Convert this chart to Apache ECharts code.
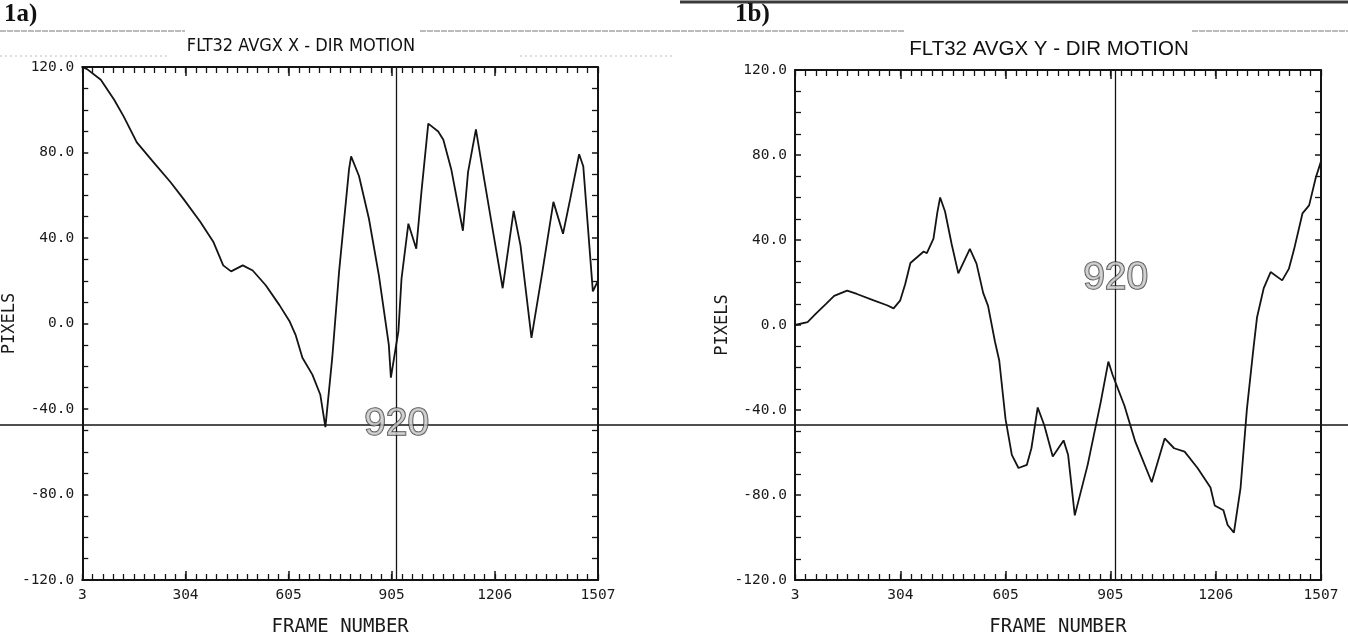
<!DOCTYPE html>
<html>
<head>
<meta charset="utf-8">
<script src="https://cdn.jsdelivr.net/npm/echarts@6/dist/echarts.min.js"></script>
<style>
html,body{margin:0;padding:0;background:#fff;}
#c{width:1348px;height:642px;}
</style>
</head>
<body>
<div id="c"></div>
<script>
// ---------- data ----------
const xTickLabels = [3, 304, 605, 905, 1206, 1507];
const yMin = -120, yMax = 120, yStep = 40;
const markerFrame = 920;
const crosshairValue = -47.5;
const markerLabelY = [-47, 22];
const titles = ['FLT32 AVGX X - DIR MOTION', 'FLT32 AVGX Y - DIR MOTION'];
const panelTags = ['1a)', '1b)'];

const leftFrames = [3,17,57,96,124,162,211,260,298,347,385,414,437,471,500,538,578,607,625,645,674,697,712,732,752,781,787,810,839,868,897,903,925,934,954,977,992,1012,1041,1056,1079,1113,1128,1151,1175,1203,1229,1261,1281,1313,1345,1377,1405,1426,1452,1464,1492,1507];
const leftPixels = [120,119,114,104.7,96.8,84.7,75.4,66.2,58.3,47.6,38.3,27.2,24.4,27.2,24.8,17.9,8.6,1.2,-5.3,-16,-23.9,-33.2,-48.5,-16,24.4,72.2,78.2,69,49,22.5,-10,-25.3,-3.5,21,46.7,35,61.5,93.5,89.8,86,72.2,43.4,70.8,90.8,67.5,41,16.5,52.7,36.4,-6.7,24.4,56.9,42,58.3,79.2,73.6,15,20];

const rightFrames = [3,39,62,91,115,152,180,228,266,285,304,318,333,371,380,399,410,418,432,451,470,503,522,541,555,575,587,605,623,642,666,679,697,716,740,771,784,803,840,877,899,911,945,976,1023,1060,1087,1117,1154,1191,1203,1228,1240,1258,1277,1295,1314,1324,1343,1363,1396,1415,1430,1454,1473,1492,1507];
const rightPixels = [0,1.4,5.2,9.8,13.7,16.2,14.6,11.6,9.3,7.8,11.6,19.2,29.2,34.6,33.8,40.7,53,60,53.4,38,24.3,35.8,28.9,15.1,9,-8,-16.7,-44.3,-61.1,-67.3,-65.8,-58,-38.8,-47.3,-61.9,-54.3,-61.2,-89.6,-65.7,-36.4,-17.2,-23.4,-38,-54.9,-74,-53.4,-58,-59.6,-67.3,-76.5,-84.9,-87.2,-94.1,-97.7,-76.6,-39.8,-10.8,3.5,17.2,24.9,21,26.4,35.6,52.5,56.3,69.3,77];

// ---------- styling / layout ----------
const INK = '#141414';
const MONO = '"DejaVu Sans Mono", "Liberation Mono", monospace';
const grids = [
  {left: 78, top: 67, width: 520, height: 517},
  {left: 795, top: 70, width: 526, height: 522}
];
const pixelsNameGap = [57, 59];

// minor tick positions: 10 subdivisions between labelled ticks
const xMinor = [];
for (let i = 0; i < xTickLabels.length - 1; i++) {
  const a = xTickLabels[i], b = xTickLabels[i + 1];
  for (let k = 0; k < 10; k++) xMinor.push(a + (b - a) * k / 10);
}
xMinor.push(xTickLabels[xTickLabels.length - 1]);

function xAxesFor(g) {
  const base = {gridIndex: g, type: 'value', min: xTickLabels[0], max: xTickLabels[xTickLabels.length - 1], splitLine: {show: false}};
  return [
    Object.assign({}, base, {
      position: 'bottom',
      axisLine: {show: true, onZero: false, lineStyle: {color: INK, width: 2}},
      axisTick: {show: true, inside: true, length: 9, customValues: xTickLabels, lineStyle: {color: INK, width: 1.5}},
      axisLabel: {show: true, customValues: xTickLabels, formatter: v => String(Math.round(v)), fontFamily: MONO, fontSize: 14.5, color: '#1a1a1a', margin: 8},
      name: 'FRAME NUMBER', nameLocation: 'middle', nameGap: 38,
      nameTextStyle: {fontFamily: MONO, fontSize: 19, color: '#1a1a1a'}
    }),
    Object.assign({}, base, {
      position: 'bottom',
      axisLine: {show: false, onZero: false},
      axisTick: {show: true, inside: true, length: 6, customValues: xMinor, lineStyle: {color: INK, width: 1.3}},
      axisLabel: {show: false}
    }),
    Object.assign({}, base, {
      position: 'top',
      axisLine: {show: true, onZero: false, lineStyle: {color: INK, width: 2}},
      axisTick: {show: true, inside: true, length: 9, customValues: xTickLabels, lineStyle: {color: INK, width: 1.5}},
      axisLabel: {show: false}
    }),
    Object.assign({}, base, {
      position: 'top',
      axisLine: {show: false, onZero: false},
      axisTick: {show: true, inside: true, length: 6, customValues: xMinor, lineStyle: {color: INK, width: 1.3}},
      axisLabel: {show: false}
    })
  ];
}

function yAxesFor(g) {
  const base = {gridIndex: g, type: 'value', min: yMin, max: yMax, interval: yStep, splitLine: {show: false}};
  return [
    Object.assign({}, base, {
      position: 'left',
      axisLine: {show: true, onZero: false, lineStyle: {color: INK, width: 2}},
      axisTick: {show: true, inside: true, length: 6, lineStyle: {color: INK, width: 1.5}},
      minorTick: {show: true, splitNumber: 4, length: 6, lineStyle: {color: INK, width: 1.3}},
      axisLabel: {formatter: v => v.toFixed(1), fontFamily: MONO, fontSize: 14.5, color: '#1a1a1a', margin: 8},
      name: 'PIXELS', nameLocation: 'middle', nameGap: pixelsNameGap[g], nameRotate: 90,
      nameTextStyle: {fontFamily: MONO, fontSize: 17, color: '#1a1a1a'}
    }),
    Object.assign({}, base, {
      position: 'right',
      axisLine: {show: true, onZero: false, lineStyle: {color: INK, width: 2}},
      axisTick: {show: true, inside: true, length: 6, lineStyle: {color: INK, width: 1.5}},
      minorTick: {show: true, splitNumber: 4, length: 6, lineStyle: {color: INK, width: 1.3}},
      axisLabel: {show: false}
    })
  ];
}

const panels = [
  {frames: leftFrames, pixels: leftPixels},
  {frames: rightFrames, pixels: rightPixels}
];

const series = [];
panels.forEach((p, g) => {
  series.push({
    type: 'line',
    xAxisIndex: g * 4, yAxisIndex: g * 2,
    data: p.frames.map((f, i) => [f, p.pixels[i]]),
    showSymbol: false, symbol: 'none',
    lineStyle: {color: INK, width: 1.8},
    silent: true,
    markLine: {
      silent: true, symbol: ['none', 'none'],
      label: {show: false},
      lineStyle: {color: INK, width: 1.3, type: 'solid'},
      data: [{xAxis: markerFrame}]
    },
    z: 3
  });
  series.push({
    type: 'scatter',
    xAxisIndex: g * 4, yAxisIndex: g * 2,
    data: [[markerFrame, markerLabelY[g]]],
    symbolSize: 0,
    silent: true,
    label: {
      show: true, position: 'inside',
      formatter: () => String(markerFrame),
      fontFamily: '"Liberation Sans", Arial, sans-serif',
      fontSize: 39, color: '#c8c8c8',
      textBorderColor: '#222', textBorderWidth: 1.5
    },
    z: 5
  });
});

const chart = echarts.init(document.getElementById('c'), null, {renderer: 'canvas'});
chart.setOption({
  animation: false,
  backgroundColor: '#fff',
  grid: grids.map(g => Object.assign({containLabel: false}, g)),
  xAxis: [].concat(xAxesFor(0), xAxesFor(1)),
  yAxis: [].concat(yAxesFor(0), yAxesFor(1)),
  series: series
});

// full-width crosshair line and page decorations
const yPix = chart.convertToPixel({xAxisIndex: 0, yAxisIndex: 0}, [xTickLabels[0], crosshairValue])[1];
const W = 1348;
chart.setOption({
  graphic: {elements: [
    {type: 'line', shape: {x1: 0, y1: yPix, x2: W, y2: yPix}, style: {stroke: INK, lineWidth: 1.4}, z: 2, silent: true},
    {type: 'line', shape: {x1: 680, y1: 2, x2: W, y2: 2}, style: {stroke: '#3a3a3a', lineWidth: 3}, silent: true},
    {type: 'line', shape: {x1: 0, y1: 31, x2: 185, y2: 31}, style: {stroke: '#777', lineWidth: 1, lineDash: [6, 1]}, silent: true},
    {type: 'line', shape: {x1: 420, y1: 31, x2: 674, y2: 31}, style: {stroke: '#777', lineWidth: 1, lineDash: [6, 1]}, silent: true},
    {type: 'line', shape: {x1: 674, y1: 31, x2: 905, y2: 31}, style: {stroke: '#777', lineWidth: 1, lineDash: [6, 1]}, silent: true},
    {type: 'line', shape: {x1: 1192, y1: 31, x2: W, y2: 31}, style: {stroke: '#777', lineWidth: 1, lineDash: [6, 1]}, silent: true},
    {type: 'line', shape: {x1: 0, y1: 56, x2: 170, y2: 56}, style: {stroke: '#bbb', lineWidth: 1, lineDash: [2, 3]}, silent: true},
    {type: 'line', shape: {x1: 520, y1: 56, x2: 674, y2: 56}, style: {stroke: '#bbb', lineWidth: 1, lineDash: [2, 3]}, silent: true},
    {type: 'text', x: 4, y: 2, style: {text: panelTags[0], font: 'bold 25px "Liberation Serif", serif', fill: '#111'}, silent: true},
    {type: 'text', x: 735, y: 2, style: {text: panelTags[1], font: 'bold 25px "Liberation Serif", serif', fill: '#111'}, silent: true},
    {type: 'text', x: 301, y: 46, style: {text: titles[0], font: '18px "Liberation Sans Narrow", "DejaVu Sans Condensed", "Liberation Sans", sans-serif', fill: '#111', textAlign: 'center', textVerticalAlign: 'middle'}, silent: true},
    {type: 'text', x: 1049, y: 49, style: {text: titles[1], font: '20.5px "Liberation Sans", Arial, sans-serif', fill: '#111', textAlign: 'center', textVerticalAlign: 'middle'}, silent: true}
  ]}
});
</script>
</body>
</html>
